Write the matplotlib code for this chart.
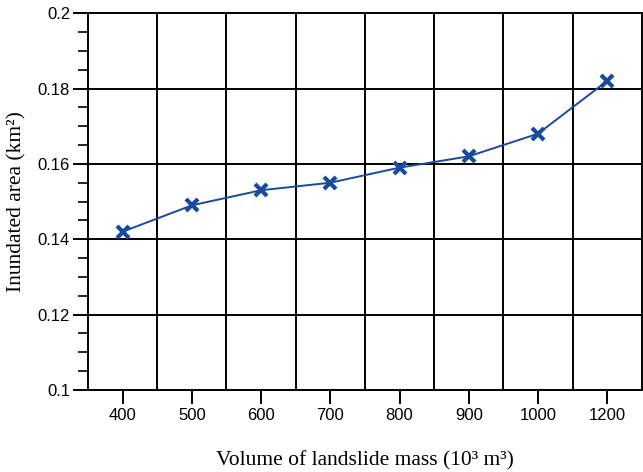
import matplotlib
matplotlib.use("Agg")
import matplotlib.pyplot as plt
from matplotlib.ticker import MultipleLocator

volumes = ["400", "500", "600", "700", "800", "900", "1000", "1200"]
area = [0.142, 0.149, 0.153, 0.155, 0.159, 0.162, 0.168, 0.182]

fig = plt.figure(figsize=(6.43, 4.72), dpi=100)
ax = fig.add_axes([0.137, 0.174, 0.861, 0.798])

x = list(range(len(volumes)))
ax.plot(x, area, color="#1a4a9c", linewidth=1.4, marker="x",
        markersize=9, markeredgewidth=3, zorder=3)

ax.set_xlim(-0.5, len(volumes) - 0.5)
ax.set_ylim(0.1, 0.2)
ax.set_xticks(x)
ax.set_xticklabels(volumes)
ax.set_xticks([i + 0.5 for i in x[:-1]], minor=True)
ax.set_yticks([0.1, 0.12, 0.14, 0.16, 0.18, 0.2])
ax.set_yticklabels(["0.1", "0.12", "0.14", "0.16", "0.18", "0.2"])
ax.yaxis.set_minor_locator(MultipleLocator(0.005))

ax.grid(True, which="major", axis="y", color="black", linewidth=1.4)
ax.grid(True, which="minor", axis="x", color="black", linewidth=1.4)
ax.tick_params(axis="x", which="minor", length=0)
ax.tick_params(axis="x", which="major", direction="out", length=10, width=1.4, pad=3)
ax.tick_params(axis="y", which="major", direction="out", length=11, width=1.4, pad=2)
ax.tick_params(axis="y", which="minor", direction="out", length=7, width=1.2)

for lab in ax.get_xticklabels() + ax.get_yticklabels():
    lab.set_family("Liberation Sans")
    lab.set_fontsize(12)

for s in ax.spines.values():
    s.set_linewidth(1.4)

ax.set_xlabel("Volume of landslide mass (10³ m³)", family="Liberation Serif",
              fontsize=15.5, labelpad=20)
ax.set_ylabel("Inundated area (km²)", family="Liberation Serif",
              fontsize=15.5, labelpad=8)

fig.savefig("out.png", dpi=100)
